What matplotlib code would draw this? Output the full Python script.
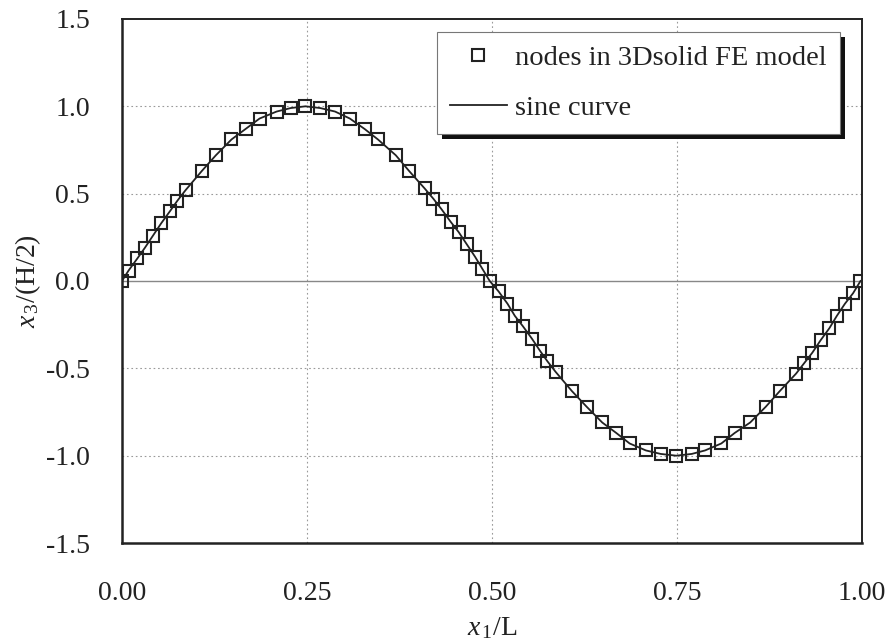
import matplotlib
matplotlib.use('Agg')
import matplotlib.pyplot as plt
from matplotlib.patches import Rectangle
from matplotlib.transforms import IdentityTransform

# node positions (x1/L, x3/(H/2))
node_x = [0.000, 0.009, 0.021, 0.031, 0.042, 0.053, 0.065, 0.075, 0.086,
          0.108, 0.127, 0.148, 0.167, 0.186, 0.209, 0.228, 0.248, 0.268,
          0.288, 0.308, 0.328, 0.346, 0.370, 0.388, 0.409, 0.421, 0.432,
          0.444, 0.455, 0.466, 0.477, 0.487, 0.497,
          0.509, 0.521, 0.531, 0.542, 0.554, 0.565, 0.575, 0.586,
          0.608, 0.628, 0.649, 0.668, 0.686, 0.708, 0.728, 0.749, 0.770,
          0.788, 0.810, 0.828, 0.849, 0.870, 0.889, 0.911, 0.922, 0.933,
          0.944, 0.956, 0.966, 0.977, 0.988, 0.998]
node_y = [0.00, 0.06, 0.13, 0.19, 0.26, 0.33, 0.40, 0.46, 0.52,
          0.63, 0.72, 0.81, 0.87, 0.93, 0.97, 0.99, 1.00, 0.99,
          0.97, 0.93, 0.87, 0.81, 0.72, 0.63, 0.53, 0.47, 0.41,
          0.34, 0.28, 0.21, 0.14, 0.07, 0.00,
          -0.06, -0.13, -0.20, -0.26, -0.33, -0.40, -0.46, -0.52,
          -0.63, -0.72, -0.81, -0.87, -0.93, -0.97, -0.99, -1.00, -0.99,
          -0.97, -0.93, -0.87, -0.81, -0.72, -0.63, -0.53, -0.47, -0.41,
          -0.34, -0.27, -0.20, -0.13, -0.07, 0.00]

x_ticks = [0.0, 0.25, 0.5, 0.75, 1.0]
x_tick_labels = ['0.00', '0.25', '0.50', '0.75', '1.00']
y_ticks = [-1.5, -1.0, -0.5, 0.0, 0.5, 1.0, 1.5]
y_tick_labels = ['-1.5', '-1.0', '-0.5', '0.0', '0.5', '1.0', '1.5']

plt.rcParams['font.family'] = 'Liberation Serif'
plt.rcParams['mathtext.fontset'] = 'custom'
plt.rcParams['mathtext.rm'] = 'Liberation Serif'
plt.rcParams['mathtext.it'] = 'Liberation Serif:italic'

ink = '#222222'

fig = plt.figure(figsize=(8.9, 6.43), dpi=100)
ax = fig.add_axes([0.137, 0.1555, 0.8315, 0.815])

# grid
for gx in [0.25, 0.5, 0.75]:
    ax.axvline(gx, color='#9a9a9a', lw=0.8, ls=(0, (1.5, 2.5)), zorder=1)
for gy in [-1.0, -0.5, 0.5, 1.0]:
    ax.axhline(gy, color='#9a9a9a', lw=0.8, ls=(0, (1.5, 2.5)), zorder=1)
ax.axhline(0.0, color='#888888', lw=1.0, zorder=1)

ax.plot(node_x, node_y, ls='none', marker='s', ms=8.5, mfc='none',
        mec=ink, mew=1.5, label='nodes in 3Dsolid FE model', zorder=3)
ax.plot(node_x, node_y, color=ink, lw=1.3, label='sine curve', zorder=2)

ax.set_xlim(0, 1)
ax.set_ylim(-1.5, 1.5)
ax.set_xticks(x_ticks)
ax.set_xticklabels(x_tick_labels)
ax.set_yticks(y_ticks)
ax.set_yticklabels(y_tick_labels)
ax.tick_params(axis='both', length=0, labelsize=20, colors=ink)
ax.tick_params(axis='x', pad=27)
ax.tick_params(axis='y', pad=23)

for side in ['left', 'bottom']:
    ax.spines[side].set_linewidth(1.8)
    ax.spines[side].set_color(ink)
for side in ['top', 'right']:
    ax.spines[side].set_linewidth(1.4)
    ax.spines[side].set_color(ink)

ax.set_xlabel(r'$x_{\,1}$/L', fontsize=20, color=ink, labelpad=7)
ax.set_ylabel(r'$x_{\,3}$/(H/2)', fontsize=20, color=ink, labelpad=2)

leg = ax.legend(loc='upper right', bbox_to_anchor=(0.970, 0.975),
                borderaxespad=0, fontsize=20.5, numpoints=1,
                handlelength=2.0, handletextpad=0.3, labelspacing=0.85,
                borderpad=0.45, fancybox=False, framealpha=1)
leg.get_frame().set_edgecolor('#777777')
leg.get_frame().set_linewidth(0.8)
leg.set_zorder(6)
for t in leg.get_texts():
    t.set_color(ink)

# heavy drop shadow behind the legend box
fig.canvas.draw()
bb = leg.get_window_extent()
shadow = Rectangle((bb.x0 + 5, bb.y0 - 5), bb.width, bb.height,
                   transform=IdentityTransform(), facecolor='#111111',
                   edgecolor='none', clip_on=False, zorder=5.5)
ax.add_patch(shadow)

fig.savefig('out.png', dpi=100)
